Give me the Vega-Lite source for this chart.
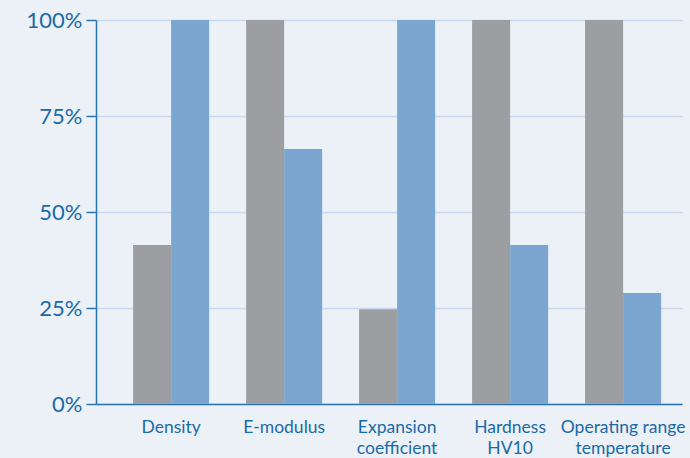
{
  "$schema": "https://vega.github.io/schema/vega-lite/v6.json",
  "width": 586,
  "height": 384,
  "autosize": {"type": "none"},
  "padding": {"left": 96, "top": 20, "right": 8, "bottom": 54},
  "background": "#ecf1f8",
  "config": {
    "view": {"stroke": null},
    "axis": {"labelFont": "Lato", "labelColor": "#1a6aa5", "domainColor": "#2a74ad", "domainWidth": 1.5, "tickColor": "#2a74ad", "tickWidth": 1.5}
  },
  "data": {
    "values": [
      {"property": "Density", "series": "Series 1", "value": 0.414},
      {"property": "Density", "series": "Series 2", "value": 1.0},
      {"property": "E-modulus", "series": "Series 1", "value": 1.0},
      {"property": "E-modulus", "series": "Series 2", "value": 0.664},
      {"property": "Expansion coefficient", "series": "Series 1", "value": 0.247},
      {"property": "Expansion coefficient", "series": "Series 2", "value": 1.0},
      {"property": "Hardness HV10", "series": "Series 1", "value": 1.0},
      {"property": "Hardness HV10", "series": "Series 2", "value": 0.414},
      {"property": "Operating range temperature", "series": "Series 1", "value": 1.0},
      {"property": "Operating range temperature", "series": "Series 2", "value": 0.289}
    ]
  },
  "mark": {"type": "bar"},
  "encoding": {
    "x": {
      "field": "property",
      "type": "nominal",
      "sort": null,
      "title": null,
      "scale": {"paddingInner": 0.327, "paddingOuter": 0.2565, "align": 0.64},
      "axis": {
        "ticks": false,
        "labelAngle": 0,
        "labelFontSize": 17.5,
        "labelPadding": 14,
        "labelLineHeight": 21,
        "labelExpr": "datum.value == 'Expansion coefficient' ? ['Expansion', 'coefficient'] : datum.value == 'Hardness HV10' ? ['Hardness', 'HV10'] : datum.value == 'Operating range temperature' ? ['Operating range', 'temperature'] : datum.value",
        "labelBaseline": "top",
        "labelOverlap": false,
        "grid": false
      }
    },
    "xOffset": {"field": "series", "type": "nominal", "scale": {"paddingInner": 0}},
    "y": {
      "field": "value",
      "type": "quantitative",
      "title": null,
      "scale": {"domain": [0, 1], "nice": false},
      "axis": {
        "values": [0, 0.25, 0.5, 0.75, 1],
        "format": ".0%",
        "labelFontSize": 22,
        "labelPadding": 4,
        "tickSize": 10,
        "gridColor": "#c8d9ef",
        "gridWidth": 1.5
      }
    },
    "color": {
      "field": "series",
      "type": "nominal",
      "legend": null,
      "scale": {"domain": ["Series 1", "Series 2"], "range": ["#9d9ea2", "#7ba6cf"]}
    }
  }
}
